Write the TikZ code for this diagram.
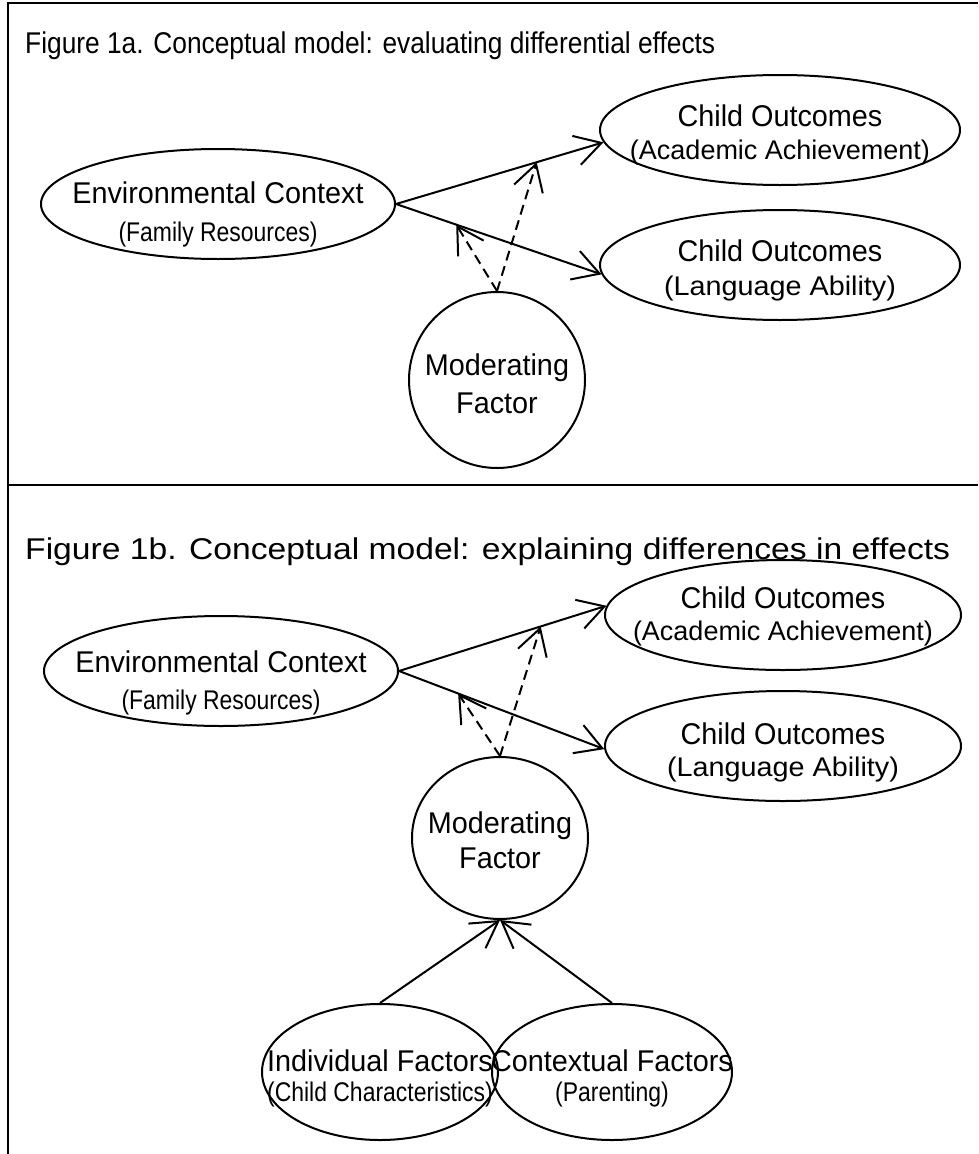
\documentclass[tikz,border=0pt]{standalone}
\usepackage{fontspec}
\setmainfont{Liberation Sans}
\usetikzlibrary{shapes.geometric,arrows.meta,calc}
\newcommand\fitw[2]{\resizebox{#1}{\height}{#2}}
\newcommand\mt[1]{\scalebox{0.96}[1]{#1}}
\newcommand\st[1]{\scalebox{0.85}[1]{#1}}
\begin{document}
\begin{tikzpicture}[x=1pt,y=-1pt,
  shp/.style={draw,line width=2pt,ellipse,inner sep=0pt},
  mainT/.style={anchor=base,inner sep=0pt,font=\fontsize{30}{34}\selectfont},
  subT/.style={anchor=base,inner sep=0pt,font=\fontsize{27}{30}\selectfont},
  arr/.style={line width=2pt,-{Straight Barb[length=26pt,width=30pt,line width=2pt]}},
  darr/.style={arr,dash pattern=on 10pt off 6pt},
  frameline/.style={line width=2pt},
  title/.style={anchor=base west,inner sep=0pt,font=\fontsize{30}{34}\selectfont}]
\useasboundingbox (0,0) rectangle (978,1154);
% frame
\draw[frameline] (978,3) -- (8,3) -- (8,1154);
\draw[frameline] (8,485) -- (978,485);
% titles
\node[title] (t1) at (25,53) {\fitw{690pt}{Figure 1a. Conceptual model: evaluating differential effects}};
\node[title] (t2) at (25,559) {\fitw{925pt}{Figure 1b. Conceptual model: explaining differences in effects}};
% ---------- top panel ----------
\node[shp,minimum width=354pt,minimum height=110pt] (envA) at (218,204) {};
\node[mainT] (envA1) at (218,203) {\mt{Environmental Context}};
\node[subT] (envA2) at (218,241) {\st{(Family Resources)}};
\node[shp,minimum width=360pt,minimum height=110pt] (acadA) at (780,130) {};
\node[mainT] (acadA1) at (780,126) {\mt{Child Outcomes}};
\node[subT] (acadA2) at (780,159) {\fitw{300pt}{(Academic Achievement)}};
\node[shp,minimum width=360pt,minimum height=110pt] (langA) at (780,265) {};
\node[mainT] (langA1) at (780,261) {\mt{Child Outcomes}};
\node[subT] (langA2) at (780,295) {\fitw{232pt}{(Language Ability)}};
\node[shp,minimum width=176pt,minimum height=176pt] (modA) at (497,380) {};
\node[mainT] (modA1) at (497,375) {\mt{Moderating}};
\node[mainT] (modA2) at (497,413) {\mt{Factor}};
\draw[arr] (envA.east) -- (acadA.184);
\draw[arr] (envA.east) -- (langA.183);
\draw[darr] (modA.north) -- ($(envA.east)!0.678!(acadA.184)$);
\draw[darr] (modA.north) -- ($(envA.east)!0.293!(langA.183)$);
% ---------- bottom panel ----------
\node[shp,minimum width=354pt,minimum height=110pt] (envB) at (221,671) {};
\node[mainT] (envB1) at (221,672) {\mt{Environmental Context}};
\node[subT] (envB2) at (221,709) {\st{(Family Resources)}};
\node[shp,minimum width=356pt,minimum height=110pt] (acadB) at (783,615) {};
\node[mainT] (acadB1) at (783,608) {\mt{Child Outcomes}};
\node[subT] (acadB2) at (783,640) {\fitw{300pt}{(Academic Achievement)}};
\node[shp,minimum width=356pt,minimum height=110pt] (langB) at (783,746) {};
\node[mainT] (langB1) at (783,744) {\mt{Child Outcomes}};
\node[subT] (langB2) at (783,776) {\fitw{232pt}{(Language Ability)}};
\node[shp,minimum width=176pt,minimum height=162pt] (modB) at (500,838) {};
\node[mainT] (modB1) at (500,833) {\mt{Moderating}};
\node[mainT] (modB2) at (500,868) {\mt{Factor}};
\node[shp,minimum width=236pt,minimum height=136pt] (indB) at (380,1072) {};
\node[mainT] (indB1) at (380,1071) {\mt{Individual Factors}};
\node[subT] (indB2) at (380,1101) {\st{(Child Characteristics)}};
\node[shp,minimum width=240pt,minimum height=136pt] (ctxB) at (612,1072) {};
\node[mainT] (ctxB1) at (612,1071) {\mt{Contextual Factors}};
\node[subT] (ctxB2) at (612,1101) {\st{(Parenting)}};
\draw[arr] (envB.east) -- (acadB.177);
\draw[arr] (envB.east) -- (langB.181);
\draw[darr] (modB.north) -- ($(envB.east)!0.683!(acadB.177)$);
\draw[darr] (modB.north) -- ($(envB.east)!0.288!(langB.181)$);
\draw[arr] (indB.north) -- (modB.south);
\draw[arr] (ctxB.north) -- (modB.south);
\end{tikzpicture}
\end{document}
